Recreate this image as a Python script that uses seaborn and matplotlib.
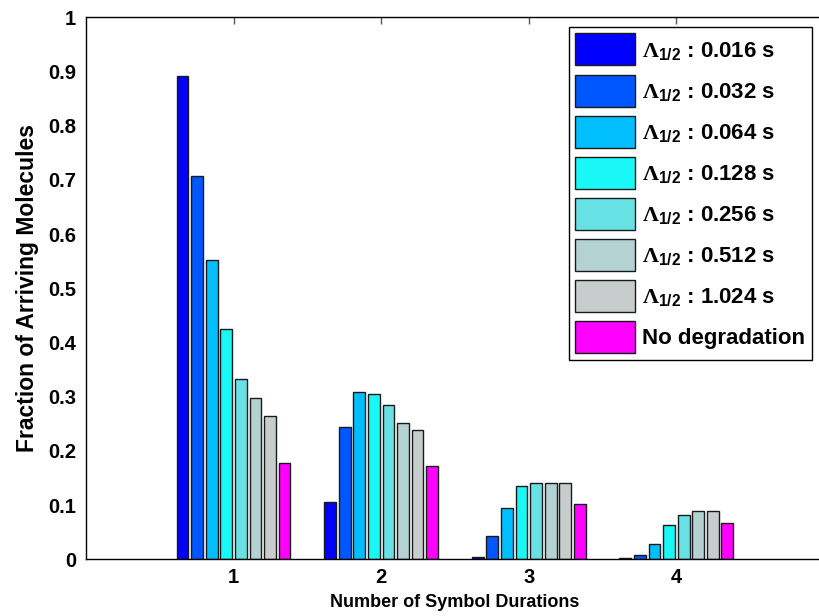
import matplotlib
matplotlib.use('Agg')
import matplotlib.pyplot as plt
import seaborn as sns
import pandas as pd

# ---- data ----
durations = ['1', '2', '3', '4']
series_names = ['0.016 s', '0.032 s', '0.064 s', '0.128 s', '0.256 s',
                '0.512 s', '1.024 s', 'No degradation']
half_0016 = [0.892, 0.105, 0.005, 0.003]
half_0032 = [0.708, 0.245, 0.043, 0.008]
half_0064 = [0.553, 0.308, 0.094, 0.029]
half_0128 = [0.424, 0.305, 0.135, 0.064]
half_0256 = [0.332, 0.284, 0.140, 0.081]
half_0512 = [0.297, 0.251, 0.140, 0.089]
half_1024 = [0.265, 0.238, 0.140, 0.089]
no_degradation = [0.178, 0.172, 0.102, 0.067]
colors = ['#0000FF', '#0057FF', '#00BEFF', '#19F7F7', '#68E1E4',
          '#B5D2D2', '#C8CCCC', '#FF00FF']
yticks = [0, 0.1, 0.2, 0.3, 0.4, 0.5, 0.6, 0.7, 0.8, 0.9, 1]
ytick_labels = ['0', '0.1', '0.2', '0.3', '0.4', '0.5', '0.6', '0.7', '0.8', '0.9', '1']

all_series = [half_0016, half_0032, half_0064, half_0128, half_0256,
              half_0512, half_1024, no_degradation]
rows = []
for name, vals in zip(series_names, all_series):
    for d, v in zip(durations, vals):
        rows.append({'Duration': d, 'Fraction': v, 'Series': name})
df = pd.DataFrame(rows)

sns.set_style('white')
plt.rcParams['font.family'] = ['Liberation Sans', 'DejaVu Sans']
plt.rcParams['font.weight'] = 'bold'
plt.rcParams['text.color'] = 'black'
plt.rcParams['axes.labelcolor'] = 'black'
plt.rcParams['mathtext.fontset'] = 'custom'
plt.rcParams['mathtext.rm'] = 'Liberation Serif'
plt.rcParams['mathtext.bf'] = 'Liberation Sans:bold'
plt.rcParams['mathtext.it'] = 'Liberation Serif:italic'

fig = plt.figure(figsize=(8.19, 6.16), dpi=100)
ax = fig.add_axes([0.105, 0.092, 0.901, 0.880])

sns.barplot(data=df, x='Duration', y='Fraction', hue='Series',
            hue_order=series_names, order=durations, palette=colors,
            saturation=1, width=0.79, gap=0.19, errorbar=None,
            edgecolor='#1a1a1a', linewidth=1, ax=ax)

ax.set_xlim(-1, 4)
ax.set_ylim(0, 1)
ax.set_yticks(yticks)
ax.set_yticklabels(ytick_labels)
for s in ax.spines.values():
    s.set_color('black')
    s.set_linewidth(1)
ax.spines['right'].set_visible(False)
ax.tick_params(axis='both', direction='in', top=True, right=False,
               labelsize=14.5, colors='#555555', labelcolor='black', width=1)
ax.tick_params(axis='x', length=5, pad=6)
ax.tick_params(axis='y', length=3.6, pad=7, colors='#333333', labelcolor='black')
ax.set_xlabel('Number of Symbol Durations', fontsize=13, fontweight='bold', labelpad=5)
ax.set_ylabel('Fraction of Arriving Molecules', fontsize=16.5, fontweight='bold', labelpad=7)

handles, _ = ax.get_legend_handles_labels()
labels = [r'$\Lambda_{\mathbf{1/2}}$' + ' : ' + n for n in series_names[:-1]] + [series_names[-1]]
leg = ax.legend(handles, labels, loc='upper right',
                bbox_to_anchor=(812 / 819, 1 - 26.7 / 616), bbox_transform=fig.transFigure,
                borderaxespad=0, fancybox=False, framealpha=1, edgecolor='black',
                fontsize=16, handlelength=2.7, handleheight=1.84, labelspacing=0.41,
                handletextpad=0.32, borderpad=0.3, title=None)
leg.get_frame().set_linewidth(1)
for t in leg.get_texts():
    t.set_fontweight('bold')

fig.savefig('out.png', dpi=100)
